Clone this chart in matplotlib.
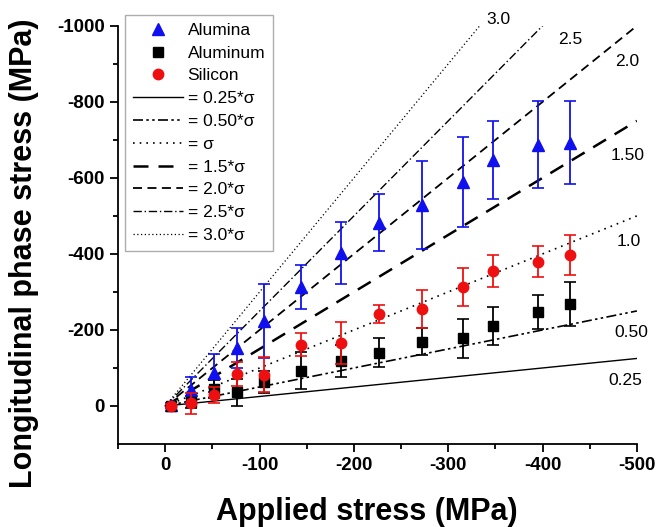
import matplotlib.pyplot as plt
from matplotlib.lines import Line2D
import numpy as np

plt.rcParams['font.family'] = ['Liberation Sans', 'DejaVu Sans']
plt.rcParams['axes.unicode_minus'] = False

# applied stress (MPa), same for all three materials
applied = [-6, -27, -52, -76, -105, -144, -186, -227, -272, -316, -347, -395, -429]

alumina = [-3, -42, -87, -153, -224, -313, -403, -482, -529, -589, -647, -687, -692]
alumina_err = [5, 35, 50, 52, 98, 58, 82, 75, 115, 118, 102, 114, 109]

aluminum = [0, -11, -44, -36, -64, -93, -119, -140, -169, -178, -211, -248, -268]
aluminum_err = [4, 15, 24, 36, 29, 48, 42, 38, 35, 52, 50, 45, 57]

silicon = [0, -7, -29, -84, -82, -161, -165, -242, -254, -312, -355, -380, -397]
silicon_err = [4, 28, 22, 31, 46, 30, 55, 24, 50, 50, 41, 40, 53]

ratios = [0.25, 0.50, 1.0, 1.5, 2.0, 2.5, 3.0]
ratio_names = ['= 0.25*σ', '= 0.50*σ', '= σ', '= 1.5*σ', '= 2.0*σ', '= 2.5*σ', '= 3.0*σ']
ratio_tags = ['0.25', '0.50', '1.0', '1.50', '2.0', '2.5', '3.0']
tag_x = [-470, -476, -479, -472, -477, -416, -340]
tag_y = [-68, -192, -432, -660, -905, -963, -1016]

styles = [
    dict(ls='-', lw=1.0),
    dict(ls=(0, (6, 2, 1.5, 2, 1.5, 2)), lw=1.2),
    dict(ls=(0, (1, 3)), lw=1.2),
    dict(ls=(0, (6, 4)), lw=1.8),
    dict(ls=(0, (5, 3)), lw=1.3),
    dict(ls=(0, (6, 2, 1, 2)), lw=1.0),
    dict(ls=(0, (1, 2)), lw=0.9),
]

fig = plt.figure(figsize=(6.6, 5.27), dpi=100)
ax = fig.add_axes([0.179, 0.1575, 0.786, 0.7935])

xs = np.array([0, -500])
line_handles = []
for k, st, name in zip(ratios, styles, ratio_names):
    ax.plot(xs, k * xs, color='black', **st)
    line_handles.append(Line2D([], [], color='black', label=name, **st))

for tx, ty, tag in zip(tag_x, tag_y, ratio_tags):
    ax.text(tx, ty, tag, fontsize=12.5, ha='left', va='center', clip_on=False)

ax.errorbar(applied, alumina, yerr=alumina_err, fmt='^', color='#1010ee',
            ms=8, capsize=4, elinewidth=1.3, capthick=1.2, zorder=3)
ax.errorbar(applied, aluminum, yerr=aluminum_err, fmt='s', color='black',
            ms=6.5, capsize=4, elinewidth=1.3, capthick=1.2, zorder=3)
ax.errorbar(applied, silicon, yerr=silicon_err, fmt='o', color='#ee1010',
            ms=7.5, capsize=4, elinewidth=1.3, capthick=1.2, zorder=4)

marker_handles = [
    Line2D([], [], ls='none', marker='^', color='#1010ee', ms=8, label='Alumina'),
    Line2D([], [], ls='none', marker='s', color='black', ms=6.5, label='Aluminum'),
    Line2D([], [], ls='none', marker='o', color='#ee1010', ms=7.5, label='Silicon'),
]

leg = ax.legend(handles=marker_handles + line_handles, loc='upper left',
                bbox_to_anchor=(0.0135, 1.026), borderaxespad=0,
                fontsize=12.5, handlelength=2.9,
                handletextpad=0.25, labelspacing=0.44, borderpad=0.45,
                fancybox=False, edgecolor='#999999', numpoints=1)
leg.get_frame().set_linewidth(1.0)

ax.set_xlim(50, -500)
ax.set_ylim(100, -1000)
ax.set_xticks([0, -100, -200, -300, -400, -500])
ax.set_xticks([-50, -150, -250, -350, -450, 50], minor=True)
ax.set_yticks([0, -200, -400, -600, -800, -1000])
ax.set_yticks([-100, -300, -500, -700, -900], minor=True)
ax.spines['top'].set_visible(False)
ax.spines['right'].set_visible(False)
for s in ['left', 'bottom']:
    ax.spines[s].set_linewidth(1.3)
ax.tick_params(which='major', direction='out', length=6, width=1.3, labelsize=13.5)
ax.tick_params(which='minor', direction='out', length=3.5, width=1.3)
for lab in ax.get_xticklabels() + ax.get_yticklabels():
    lab.set_fontweight('bold')

ax.set_xlabel('Applied stress (MPa)', fontsize=22, fontweight='bold')
ax.set_ylabel('Longitudinal phase stress (MPa)', fontsize=22, fontweight='bold')
ax.xaxis.set_label_coords(0.48, -0.127)
ax.yaxis.set_label_coords(-0.152, 0.455)

fig.savefig('out.png', dpi=100)
